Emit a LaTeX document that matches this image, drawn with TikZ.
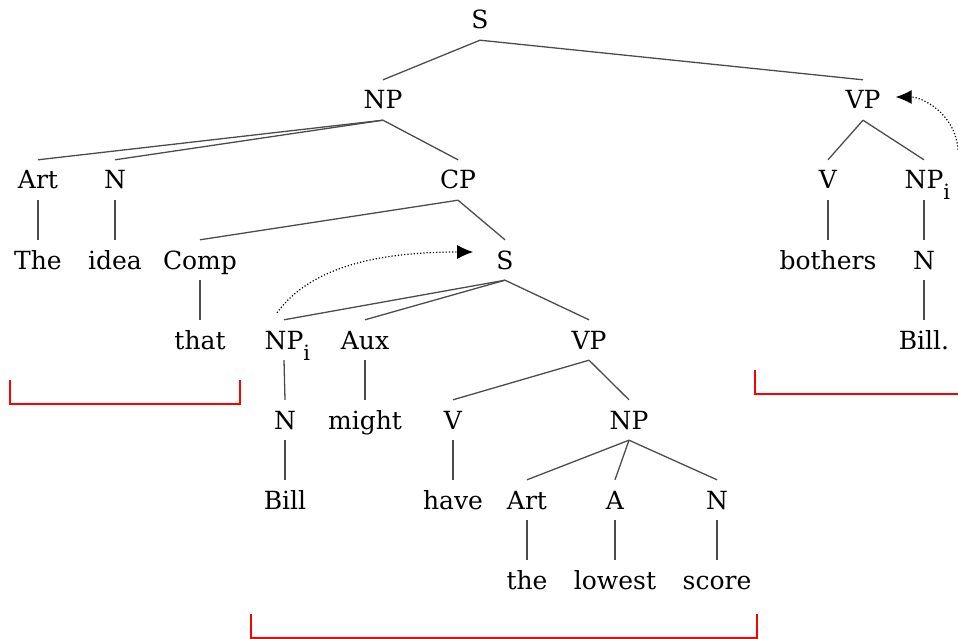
\documentclass[tikz,border=0pt]{standalone}
\usepackage{fontspec}
\setmainfont{DejaVu Serif}
\usetikzlibrary{arrows.meta}

\newcommand{\idx}[1]{\rlap{\raisebox{-11pt}{\fontsize{21}{21}\selectfont #1}}}

\begin{document}
\begin{tikzpicture}[
    x=1pt, y=-1pt,
    font=\fontsize{25}{28}\selectfont,
    cat/.style={inner sep=0pt, minimum height=40pt, text height=20pt, text depth=2pt, align=center},
    branch/.style={draw=black!70, line width=1.3pt},
    move/.style={dotted, line width=1.2pt, -{Latex[length=16pt,width=14pt]}},
    bracket/.style={draw=red, line width=1.8pt}
]
\useasboundingbox (0,0) rectangle (958,639);
% upper levels
\node[cat] (s) at (480,20) {S};
\node[cat] (np) at (383,100) {NP};
\node[cat] (vp) at (863,100) {VP};
\node[cat] (art) at (38,180) {Art};
\node[cat] (n) at (115,180) {N};
\node[cat] (cp) at (458,180) {CP};
\node[cat] (v) at (828,180) {V};
\node[cat] (npi) at (924,180) {NP\idx{i}};
\node[cat] (the) at (38,260) {The};
\node[cat] (idea) at (115,260) {idea};
\node[cat] (comp) at (200,260) {Comp};
\node[cat] (s2) at (505,260) {S};
\node[cat] (bothers) at (828,260) {bothers};
\node[cat] (n2) at (924,260) {N};
% embedded clause
\node[cat] (that) at (200,340) {that};
\node[cat] (npj) at (284,340) {NP\idx{i}};
\node[cat] (aux) at (365,340) {Aux};
\node[cat] (vp2) at (589,340) {VP};
\node[cat] (bill2) at (924,340) {Bill.};
\node[cat] (n3) at (285,420) {N};
\node[cat] (might) at (365,420) {might};
\node[cat] (v2) at (453,420) {V};
\node[cat] (np3) at (629,420) {NP};
\node[cat] (bill) at (285,500) {Bill};
\node[cat] (have) at (453,500) {have};
\node[cat] (art2) at (527,500) {Art};
\node[cat] (a) at (615,500) {A};
\node[cat] (n4) at (717,500) {N};
\node[cat] (the2) at (527,580) {the};
\node[cat] (lowest) at (615,580) {lowest};
\node[cat] (score) at (717,580) {score};
% branches
\draw[branch] (s.south) -- (np.north);
\draw[branch] (s.south) -- (vp.north);
\draw[branch] (np.south) -- (art.north);
\draw[branch] (np.south) -- (n.north);
\draw[branch] (np.south) -- (cp.north);
\draw[branch] (vp.south) -- (v.north);
\draw[branch] (vp.south) -- (npi.north);
\draw[branch] (art.south) -- (the.north);
\draw[branch] (n.south) -- (idea.north);
\draw[branch] (cp.south) -- (comp.north);
\draw[branch] (cp.south) -- (s2.north);
\draw[branch] (v.south) -- (bothers.north);
\draw[branch] (npi.south) -- (n2.north);
\draw[branch] (comp.south) -- (that.north);
\draw[branch] (s2.south) -- (npj.north);
\draw[branch] (s2.south) -- (aux.north);
\draw[branch] (s2.south) -- (vp2.north);
\draw[branch] (n2.south) -- (bill2.north);
\draw[branch] (npj.south) -- (n3.north);
\draw[branch] (aux.south) -- (might.north);
\draw[branch] (vp2.south) -- (v2.north);
\draw[branch] (vp2.south) -- (np3.north);
\draw[branch] (n3.south) -- (bill.north);
\draw[branch] (v2.south) -- (have.north);
\draw[branch] (np3.south) -- (art2.north);
\draw[branch] (np3.south) -- (a.north);
\draw[branch] (np3.south) -- (n4.north);
\draw[branch] (art2.south) -- (the2.north);
\draw[branch] (a.south) -- (lowest.north);
\draw[branch] (n4.south) -- (score.north);
% movement
\draw[move] ([shift={(-7,-7)}]npj.north) .. controls +(35,-48) and +(-90,0) .. ([shift={(-23,-8)}]s2.west);
\draw[move] ([shift={(34,-10)}]npi.north) .. controls +(-3,-38) and +(25,0) .. ([shift={(15,-3)}]vp.east);
% constituents
\draw[bracket] (10,380) -- (10,404) -- (240,404) -- (240,380);
\draw[bracket] (251,614) -- (251,638) -- (757,638) -- (757,614);
\draw[bracket] (755,370) -- (755,394) -- (958,394);
\end{tikzpicture}
\end{document}
